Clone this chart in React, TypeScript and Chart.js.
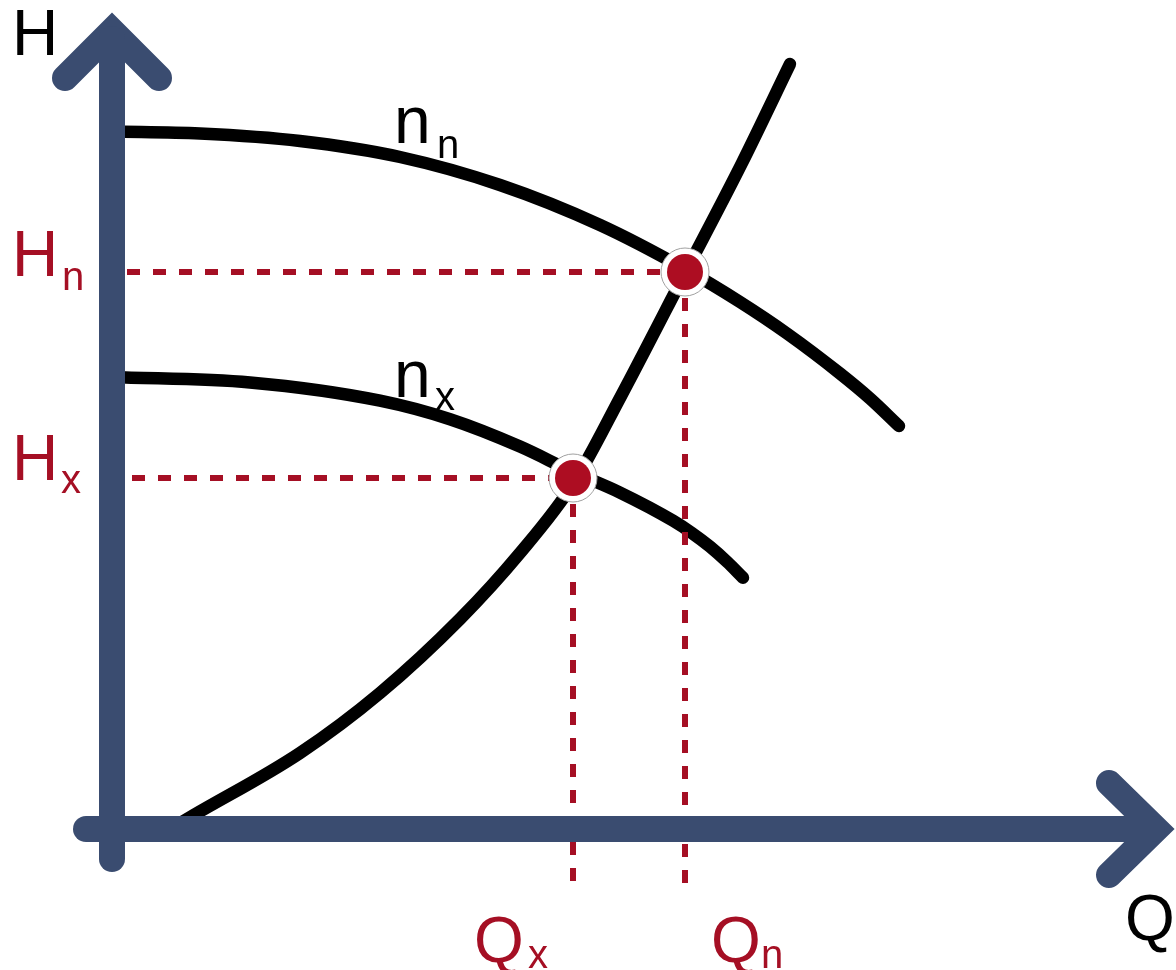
import React, { useEffect, useRef } from "react";
import { Chart, registerables } from "chart.js";

Chart.register(...registerables);

// Pump characteristic at nominal speed n_n (Q, H)
const curveNnQ = [0, 8.8, 18.8, 28.8, 38.8, 48.8, 57.3, 62.8, 67.5, 72.8, 75.8, 78.7];
const curveNnH = [69.75, 69.55, 68.8, 67.2, 64.4, 60.4, 56.0, 52.7, 49.55, 45.55, 43.05, 40.3];
// Pump characteristic at reduced speed n_x
const curveNxQ = [0, 13.8, 26.8, 33.8, 40.8, 46.0, 50.8, 56.1, 58.0, 59.8, 61.5, 63.1];
const curveNxH = [45.2, 44.65, 42.83, 40.97, 38.24, 35.75, 33.64, 30.83, 29.59, 28.23, 26.72, 25.13];
// System characteristic
const systemQ = [5.3, 8.2, 18.8, 26.8, 34.8, 40.8, 46.1, 50.8, 57.3, 63.0, 67.8];
const systemH = [-0.3, 1.4, 7.6, 13.6, 21.0, 27.6, 34.5, 43.1, 55.6, 66.6, 76.5];
// Operating points: [x, n]
const opQ = [46.1, 57.3];
const opH = [35.1, 55.7];
const dashBottomH = [-5.9, -6.3];
const dashStartQ = [2.0, 1.5];

// Axes (arrow shafts & heads)
const vAxisQ = [0, 0];
const vAxisH = [-3.0, 79.0];
const vHeadQ = [-4.7, 0, 4.7];
const vHeadH = [75.1, 79.8, 75.1];
const hAxisQ = [-2.6, 104.0];
const hAxisH = [0, 0];
const hHeadQ = [99.7, 104.4, 99.7];
const hHeadH = [4.6, 0, -4.6];

// Text labels
const labelTexts = ["H", "H", "n", "H", "x", "n", "n", "n", "x", "Q", "x", "Q", "n", "Q"];
const labelQ = [-10.0, -10.0, -5.0, -10.0, -5.1, 28.2, 32.5, 28.2, 32.3, 36.2, 41.6, 59.9, 64.9, 101.3];
const labelH = [77.4, 55.3, 53.9, 34.9, 33.6, 68.6, 67.1, 43.2, 41.9, -13.3, -13.9, -13.3, -13.9, -11.1];
const labelSize = [64, 64, 40, 64, 40, 66, 40, 66, 40, 64, 40, 64, 40, 64];
const labelRed = [false, true, true, true, true, false, false, false, false, true, true, true, true, false];

const AXIS = "#3a4c70";
const RED = "#a50f24";
const DOT = "#ad0d22";

const pts = (xs: number[], ys: number[]) => xs.map((x, i) => ({ x, y: ys[i] }));

const textPlugin = {
  id: "textLabels",
  afterDatasetsDraw(chart: any) {
    const { ctx, scales } = chart;
    ctx.save();
    ctx.textAlign = "left";
    ctx.textBaseline = "alphabetic";
    labelTexts.forEach((t, i) => {
      ctx.font = `${labelSize[i]}px "Liberation Sans", Arial, sans-serif`;
      ctx.fillStyle = labelRed[i] ? RED : "#000000";
      ctx.fillText(t, scales.x.getPixelForValue(labelQ[i]), scales.y.getPixelForValue(labelH[i]));
    });
    ctx.restore();
  },
};

export default function App() {
  const ref = useRef<HTMLCanvasElement | null>(null);
  useEffect(() => {
    if (!ref.current) return;
    const curve = (data: any, order: number) => ({
      data,
      showLine: true,
      borderColor: "#000000",
      borderWidth: 12.5,
      pointRadius: 0,
      cubicInterpolationMode: "monotone",
      borderCapStyle: "round",
      order,
      clip: false,
    });
    const dash = (data: any) => ({
      data,
      showLine: true,
      borderColor: RED,
      borderWidth: 6,
      borderDash: [13, 13],
      borderCapStyle: "butt",
      pointRadius: 0,
      order: 3,
      clip: false,
    });
    const axis = (data: any) => ({
      data,
      showLine: true,
      borderColor: AXIS,
      borderWidth: 26,
      borderCapStyle: "round",
      borderJoinStyle: "miter",
      tension: 0,
      pointRadius: 0,
      order: 0,
      clip: false,
    });
    const chart = new Chart(ref.current, {
      type: "scatter",
      data: {
        datasets: [
          axis(pts(vAxisQ, vAxisH)),
          axis(pts(vHeadQ, vHeadH)),
          axis(pts(hAxisQ, hAxisH)),
          axis(pts(hHeadQ, hHeadH)),
          {
            data: pts(opQ, opH),
            pointRadius: 18,
            pointBackgroundColor: DOT,
            pointBorderWidth: 0,
            showLine: false,
            order: 1,
            clip: false,
          },
          {
            data: pts(opQ, opH),
            pointRadius: 24,
            pointBackgroundColor: "#ffffff",
            pointBorderColor: "#a0a0a0",
            pointBorderWidth: 1,
            showLine: false,
            order: 2,
            clip: false,
          },
          dash([{ x: dashStartQ[1], y: opH[1] }, { x: opQ[1], y: opH[1] }]),
          dash([{ x: dashStartQ[0], y: opH[0] }, { x: opQ[0], y: opH[0] }]),
          dash([{ x: opQ[1], y: opH[1] }, { x: opQ[1], y: dashBottomH[1] }]),
          dash([{ x: opQ[0], y: opH[0] }, { x: opQ[0], y: dashBottomH[0] }]),
          curve(pts(curveNnQ, curveNnH), 4),
          curve(pts(curveNxQ, curveNxH), 4),
          curve(pts(systemQ, systemH), 4),
        ] as any,
      },
      options: {
        animation: false,
        responsive: false,
        events: [],
        layout: { padding: 0, autoPadding: false },
        plugins: { legend: { display: false }, tooltip: { enabled: false }, title: { display: false } },
        scales: {
          x: { type: "linear", display: false, min: -11.2, max: 106.4 },
          y: { type: "linear", display: false, min: -14.1, max: 82.9 },
        },
      } as any,
      plugins: [textPlugin],
    });
    return () => chart.destroy();
  }, []);
  return (
    <div style={{ position: "fixed", left: 0, top: 0, width: 1176, height: 970, background: "#ffffff" }}>
      <canvas ref={ref} width={1176} height={970} style={{ display: "block" }} />
    </div>
  );
}
